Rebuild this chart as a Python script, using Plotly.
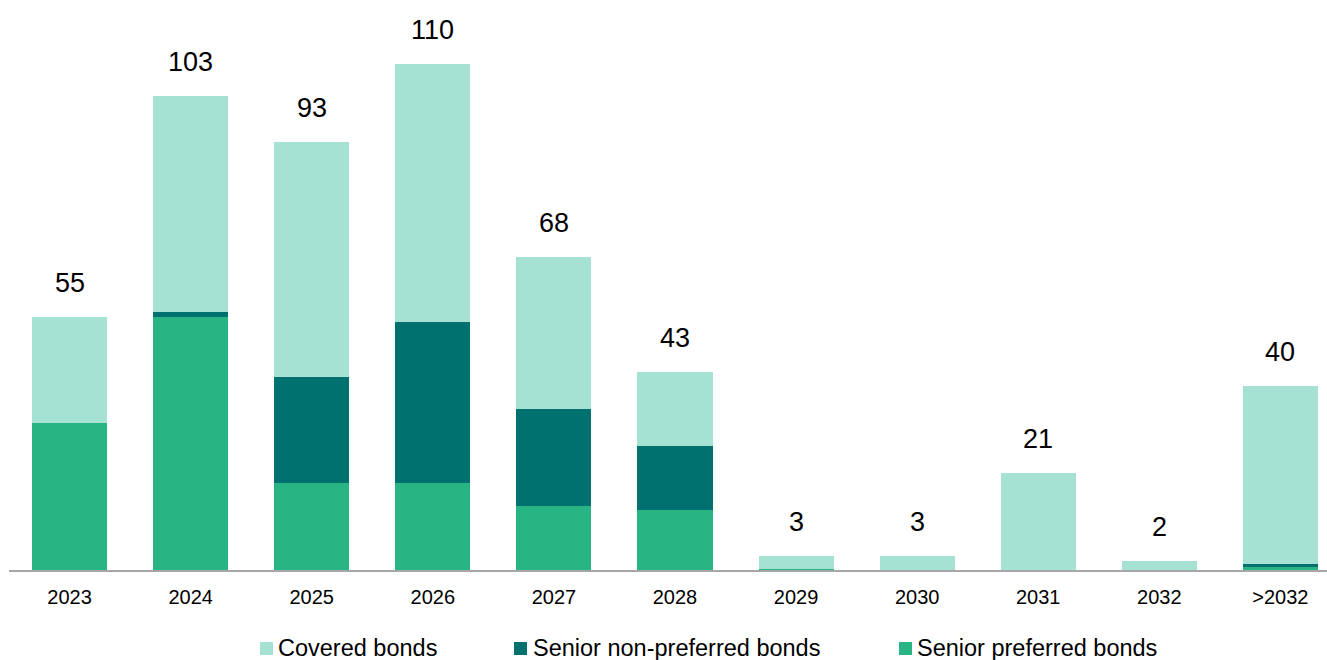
import plotly.graph_objects as go

# Maturity buckets and outstanding amounts per instrument type
categories = ["2023", "2024", "2025", "2026", "2027", "2028",
              "2029", "2030", "2031", "2032", ">2032"]
senior_preferred = [32, 55, 19, 19, 14, 13, 0.3, 0, 0, 0, 0.6]
senior_non_preferred = [0, 1, 23, 35, 21, 14, 0, 0, 0, 0, 0.8]
covered = [23, 47, 51, 56, 33, 16, 2.7, 3, 21, 2, 38.6]
totals = [55, 103, 93, 110, 68, 43, 3, 3, 21, 2, 40]

series_names = ["Senior preferred bonds", "Senior non-preferred bonds", "Covered bonds"]
series_colors = ["#29b483", "#00716f", "#a5e2d3"]
series_values = [senior_preferred, senior_non_preferred, covered]

FONT = "Liberation Sans, Arial, sans-serif"

W, H = 1327, 660
M_L, M_R, M_T, M_B = 9, 0, 20, 90
plot_w = W - M_L - M_R
plot_h = H - M_T - M_B

fig = go.Figure()
for name, color, vals in zip(series_names, series_colors, series_values):
    fig.add_trace(go.Bar(
        x=categories, y=vals, name=name,
        marker=dict(color=color, line=dict(width=0)),
        width=0.62, showlegend=False,
    ))

# Total labels above each stack (category axis positions are indices)
for i, tot in enumerate(totals):
    fig.add_annotation(
        x=i, y=tot, text=str(tot), showarrow=False,
        xref="x", yref="y", yanchor="middle", yshift=34,
        font=dict(family=FONT, size=27, color="#000000"),
    )

# Legend drawn below the axis
def px_x(px):
    return (px - M_L) / plot_w

def px_y(py):
    return (H - M_B - py) / plot_h

legend_items = [
    ("Covered bonds", "#a5e2d3", 260, 278),
    ("Senior non-preferred bonds", "#00716f", 514, 533),
    ("Senior preferred bonds", "#29b483", 899, 917),
]
for label, color, sq_x, txt_x in legend_items:
    fig.add_shape(
        type="rect", xref="paper", yref="paper",
        x0=px_x(sq_x), x1=px_x(sq_x + 13),
        y0=px_y(655), y1=px_y(642),
        fillcolor=color, line=dict(width=0),
    )
    fig.add_annotation(
        x=px_x(txt_x), y=px_y(648), xref="paper", yref="paper",
        text=label, showarrow=False, xanchor="left", yanchor="middle",
        xshift=-2,
        font=dict(family=FONT, size=23.5, color="#000000"),
    )

fig.update_layout(
    width=W, height=H,
    barmode="stack",
    bargap=0.38,
    plot_bgcolor="white", paper_bgcolor="white",
    margin=dict(l=M_L, r=M_R, t=M_T, b=M_B, pad=0),
    font=dict(family=FONT, color="#000000"),
    showlegend=False,
)
fig.update_xaxes(
    type="category",
    range=[-0.5, 10.385],
    showline=True, linecolor="#a6a6a6", linewidth=1.5,
    showgrid=False, ticks="", zeroline=False,
    tickfont=dict(family=FONT, size=20, color="#000000"),
    ticklabelstandoff=8,
)
fig.update_yaxes(
    range=[0, plot_h / 4.6],
    showgrid=False, showticklabels=False, zeroline=False, showline=False,
)

fig.write_html("out.html")
